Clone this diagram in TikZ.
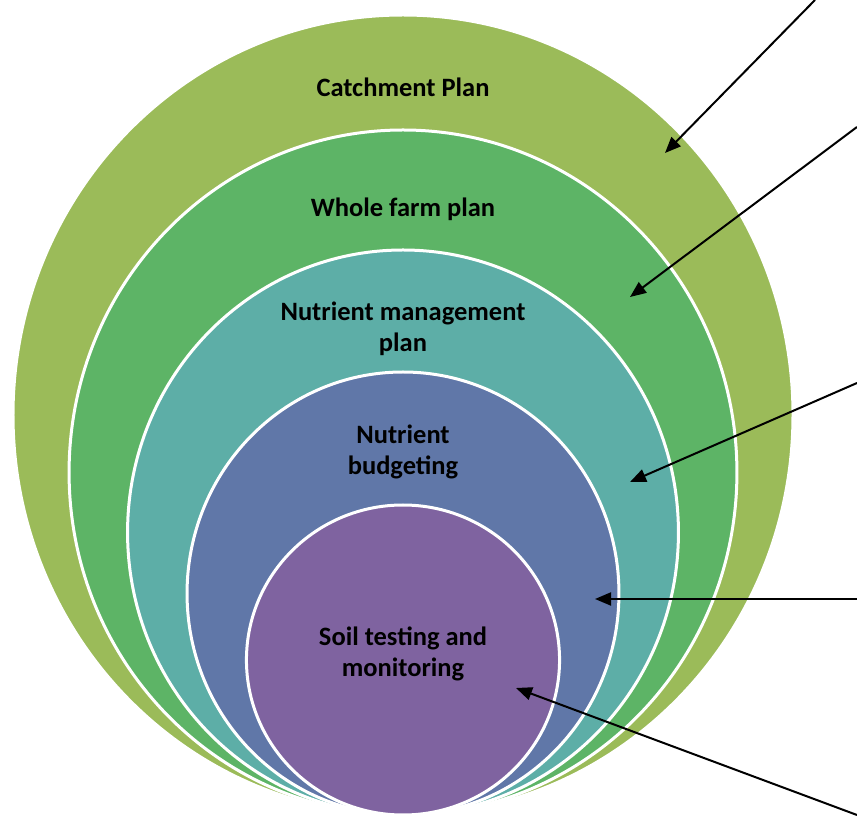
\documentclass[tikz,border=0pt]{standalone}
\usepackage{fontspec}
\setmainfont{Carlito}
\usepackage{tikz}
\usetikzlibrary{arrows.meta, calc, math}
\newcommand\cx{403}

\definecolor{catchcol}{HTML}{9BBB59}
\definecolor{farmcol}{HTML}{5DB466}
\definecolor{nmpcol}{HTML}{5DAEA7}
\definecolor{budgcol}{HTML}{6077A8}
\definecolor{soilcol}{HTML}{7F63A0}

\begin{document}
\begin{tikzpicture}[x=1pt, y=1pt, >={Triangle[length=16pt,width=13pt]},
  ring/.style={draw=white, line width=3pt},
  lbl/.style={font=\fontsize{26.5}{31}\selectfont\bfseries, align=center, text=black},
  pointer/.style={->, line width=2pt}]

\useasboundingbox (0,0) rectangle (857,817);

\tikzmath{
      \k = 0.975;
      \ra = 400; \rb = 342.5; \rc = 282.5; \rd = 221.5; \re = 155;
         }

% nested rings, all touching at the bottom
\draw[ring, fill=catchcol] (\cx,2+\ra) ellipse [x radius=\k*\ra, y radius=\ra];
\draw[ring, fill=farmcol]  (\cx,2+\rb) ellipse [x radius=\k*\rb, y radius=\rb];
\draw[ring, fill=nmpcol]   (\cx,2+\rc) ellipse [x radius=\k*\rc, y radius=\rc];
\draw[ring, fill=budgcol]  (\cx,2+\rd) ellipse [x radius=\k*\rd, y radius=\rd];
\draw[ring, fill=soilcol]  (\cx,2+\re) ellipse [x radius=1.01*\re, y radius=\re];

\node[lbl] (catch) at (\cx,730)   {Catchment Plan};
\node[lbl] (farm)  at (\cx,608)   {Whole farm plan};
\node[lbl] (nmp)   at (\cx,488)   {Nutrient management\\plan};
\node[lbl] (budg)  at (\cx,365)   {Nutrient\\budgeting};
\node[lbl] (soil)  at (\cx,163.5) {Soil testing and\\monitoring};

% pointers from the right edge
\coordinate (pa) at (665,664);  \coordinate (sa) at (815,817);
\coordinate (pb) at (630,520);  \coordinate (sb) at (857,690);
\coordinate (pc) at (630,335);  \coordinate (sc) at (857,434);
\coordinate (pd) at (595,218);  \coordinate (sd) at (857,218);
\coordinate (pe) at (516,129);  \coordinate (se) at (857,2);

\draw[pointer] (sa) -- (pa);
\draw[pointer] (sb) -- (pb);
\draw[pointer] (sc) -- (pc);
\draw[pointer] (sd) -- (pd);
\draw[pointer] (se) -- (pe);

\end{tikzpicture}
\end{document}
